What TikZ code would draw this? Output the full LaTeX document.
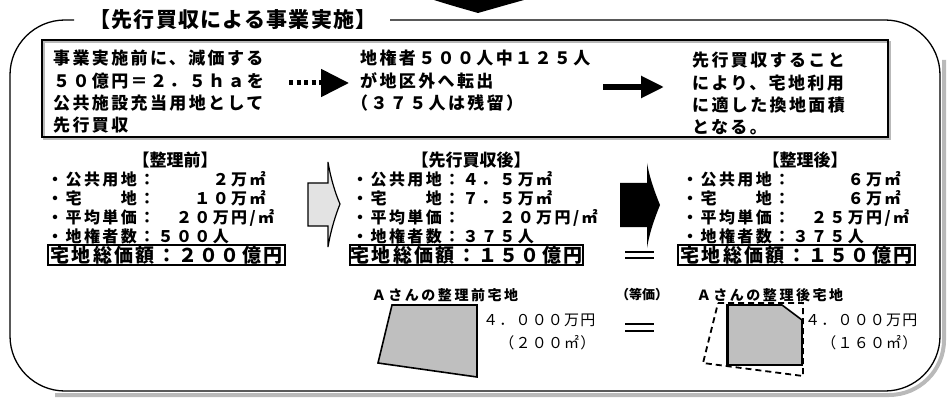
\documentclass[tikz,border=0pt]{standalone}
\usepackage{fontspec}
\newfontfamily\jp{Noto Sans CJK JP}
\usetikzlibrary{arrows.meta}
\begin{document}
\begin{tikzpicture}[x=1pt,y=-1pt,
  upt/.style={inner sep=0, anchor=north west, align=left, font=\jp\bfseries\fontsize{17}{22.3}\selectfont\addfontfeatures{LetterSpace=14}},
  lowt/.style={inner sep=0, anchor=north west, align=left, font=\jp\bfseries\fontsize{16}{19}\selectfont\addfontfeatures{LetterSpace=15}},
  headt/.style={inner sep=0, font=\jp\bfseries\fontsize{17}{20}\selectfont},
  tot/.style={draw, line width=1.5, inner sep=0, minimum height=20, font=\jp\bfseries\fontsize{19}{20}\selectfont\addfontfeatures{LetterSpace=12}},
  smallt/.style={inner sep=0, font=\jp\bfseries\fontsize{14}{16}\selectfont\addfontfeatures{LetterSpace=18}},
  valt/.style={inner sep=0, anchor=north west, align=right, font=\jp\fontsize{15}{23}\selectfont\addfontfeatures{LetterSpace=8}},
  shadowc/.style={draw=gray!55},
  eqs/.style={line width=2.4},
  parcel/.style={draw, fill=gray!50, line width=1.6}
]
\useasboundingbox (0,0) rectangle (947,398);
\clip (0,0) rectangle (947,398);
\fill[white] (0,0) rectangle (947,398);

% top black arrow tip
\fill (434,0) .. controls (450,5) .. (478,13) .. controls (506,5) .. (524,0) -- cycle;

% outer frame (shadow + line)
\draw[shadowc, line width=4, rounded corners=55] (944,60) -- (944,395) -- (55,395);
\draw[line width=1.3, rounded corners=55] (390,20) -- (940,20) -- (940,391) -- (10,391) -- (10,20) -- (74,20);
\node[inner sep=0, font=\jp\bfseries\fontsize{21}{22}\selectfont\addfontfeatures{LetterSpace=6}] (title) at (233,20) {【先行買収による事業実施】};

% upper box
\draw[shadowc, line width=2] (44,42) rectangle (890,139);
\draw[line width=1.5] (42,40) rectangle (888,137);
\node[upt] (t1) at (53,50) {事業実施前に、減価する\\５０億円＝２．５ｈａを\\公共施設充当用地として\\先行買収};
\node[upt] (t2) at (360,50) {地権者５００人中１２５人\\が地区外へ転出\\\hspace*{-9pt}（３７５人は残留）};
\node[upt] (t3) at (692,52) {先行買収すること\\により、宅地利用\\に適した換地面積\\となる。};
\coordinate (d1) at (289,83);
\coordinate (d2) at (349,83);
\draw[line width=5, dash pattern=on 4 off 3.5, -{Triangle[length=28pt,width=27pt]}] (d1) -- (d2);
\coordinate (s1) at (603,87);
\coordinate (s2) at (664,87);
\draw[line width=5.5, -{Triangle[length=23pt,width=21pt]}] (s1) -- (s2);

% lower columns
\node[headt] (h1) at (175,160) {【整理前】};
\node[headt] (h2) at (471,160) {【先行買収後】};
\node[headt] (h3) at (805,160) {【整理後】};
\node[lowt] (c1) at (47,171) {・公共用地：　　　２万㎡\\・宅　　地：　　１０万㎡\\・平均単価：　２０万円/㎡\\・地権者数：５００人};
\node[lowt] (c2) at (352,171) {・公共用地：４．５万㎡\\・宅　　地：７．５万㎡\\・平均単価：　　２０万円/㎡\\・地権者数：３７５人};
\node[lowt] (c3) at (682,171) {・公共用地：　　　６万㎡\\・宅　　地：　　　６万㎡\\・平均単価：　２５万円/㎡\\・地権者数：３７５人};
\node[tot, minimum width=237] (b1) at (166.5,255) {宅地総価額：２００億円};
\node[tot, minimum width=233] (b2) at (466.5,255) {宅地総価額：１５０億円};
\node[tot, minimum width=237] (b3) at (796.5,255) {宅地総価額：１５０億円};

% block arrows
\draw[line width=1.2, fill=gray!22] (308,183) -- (328,183) -- (328,162) .. controls (331,180) and (336,195) .. (340,204) .. controls (336,214) and (331,229) .. (328,247) -- (328,226) -- (308,226) -- cycle;
\fill (620,183) -- (647,183) -- (647,163) .. controls (650,180) and (656,195) .. (660,205) .. controls (656,215) and (650,230) .. (647,248) -- (647,227) -- (620,227) -- cycle;

% equal signs
\draw[eqs] (625,252) -- (654,252);
\draw[eqs] (625,258) -- (654,258);
\draw[eqs] (625,324) -- (654,324);
\draw[eqs] (625,331) -- (654,331);
\node[inner sep=0, font=\jp\bfseries\fontsize{13}{14}\selectfont] (eq) at (642,295) {（等価）};

% parcels
\node[smallt] (a1) at (445,295) {Ａさんの整理前宅地};
\node[smallt] (a2) at (770,295) {Ａさんの整理後宅地};
\path[parcel] (392,305) -- (477,305) -- (477,377) -- (378,363) -- cycle;
\draw[line width=1.8, dash pattern=on 6 off 4] (718,303) -- (803,303) -- (803,376) -- (703,363) -- cycle;
\path[parcel] (727,305) -- (782,305) -- (802,320) -- (802,365) -- (727,365) -- cycle;
\draw[line width=3] (727,305) -- (727,365);
\node[valt] (v1) at (483,314) {４．０００万円\\（２００㎡）};
\node[valt] (v2) at (805,314) {４．０００万円\\（１６０㎡）};
\end{tikzpicture}
\end{document}
